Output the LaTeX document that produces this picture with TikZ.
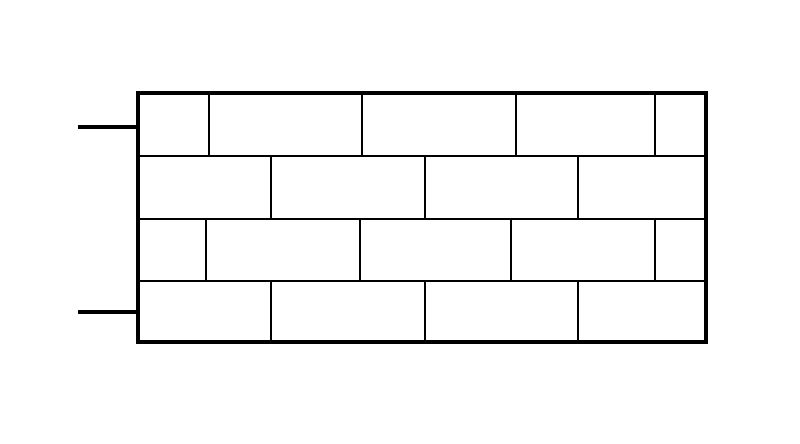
\documentclass[tikz,border=0pt]{standalone}
\begin{document}
\begin{tikzpicture}[x=0.75pt,y=0.75pt,yscale=-1,xscale=1]
%set diagram left start at 0, and has height of 443
\useasboundingbox (0,0) rectangle (800,443);

%Straight Lines [id:rowlines]
\draw [line width=1pt]  (138,156) -- (706,156) (138,219) -- (706,219) (138,281) -- (706,281) ;
%Straight Lines [id:row1joints]
\draw [line width=1pt]  (209,93) -- (209,156) (362,93) -- (362,156) (516,93) -- (516,156) (655,93) -- (655,156) ;
%Straight Lines [id:row2joints]
\draw [line width=1pt]  (271,156) -- (271,219) (425,156) -- (425,219) (578,156) -- (578,219) ;
%Straight Lines [id:row3joints]
\draw [line width=1pt]  (206,219) -- (206,281) (360,219) -- (360,281) (511,219) -- (511,281) (655,219) -- (655,281) ;
%Straight Lines [id:row4joints]
\draw [line width=1pt]  (271,281) -- (271,342) (425,281) -- (425,342) (578,281) -- (578,342) ;
%Shape: Rectangle [id:wall]
\draw [line width=2.6pt]  (138,93) -- (706,93) -- (706,342) -- (138,342) -- cycle ;
%Straight Lines [id:stubtop]
\draw [line width=2.4pt]  (78,127) -- (138,127) ;
%Straight Lines [id:stubbottom]
\draw [line width=2.4pt]  (78,312) -- (138,312) ;

\end{tikzpicture}
\end{document}
